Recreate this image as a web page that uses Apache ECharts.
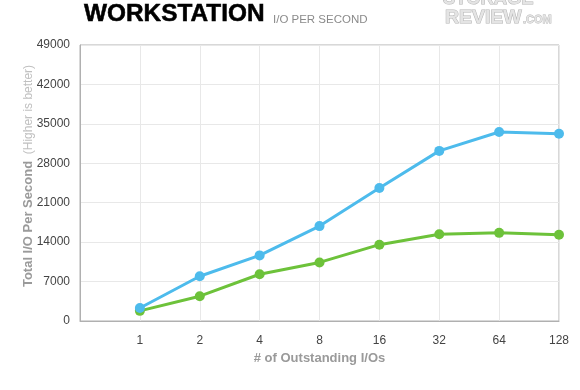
<!DOCTYPE html>
<html>
<head>
<meta charset="utf-8">
<script src="https://cdn.jsdelivr.net/npm/echarts@6/dist/echarts.min.js"></script>
<style>
html,body{margin:0;padding:0;background:#fff;}
#c{width:580px;height:390px;}
</style>
</head>
<body>
<div id="c"></div>
<script>
const categories = ['', '1', '2', '4', '8', '16', '32', '64', '128'];
const seriesBlue = [null, 2300, 7950, 11650, 16850, 23600, 30200, 33550, 33250];
const seriesGreen = [null, 1800, 4400, 8300, 10400, 13550, 15400, 15650, 15300];
const yTicks = { min: 0, max: 49000, interval: 7000 };

const chart = echarts.init(document.getElementById('c'));
const font = '"Liberation Sans", Arial, Helvetica, sans-serif';
chart.setOption({
  animation: false,
  textStyle: { fontFamily: font },
  grid: { left: 80, right: 21, top: 45, bottom: 69, show: true, borderColor: '#b0b0b0', borderWidth: 1, backgroundColor: 'transparent' },
  graphic: [
    { type: 'text', x: 84, y: 3, scaleX: 1.06, style: { text: 'WORKSTATION', font: 'bold 23px ' + font, fill: '#000', stroke: '#000', lineWidth: 0.5 } },
    { type: 'text', x: 273, y: 15, scaleX: 1.15, style: { text: 'I/O PER SECOND', font: '10px ' + font, fill: '#8a8a8a' } },
    { type: 'text', x: 443, y: -10, scaleX: 1.02, style: { text: 'STORAGE', font: 'bold 18px ' + font, fill: '#e4e4e4', stroke: '#b4b4b4', lineWidth: 1 } },
    { type: 'text', x: 445, y: 9, scaleX: 1.08, style: { text: 'REVIEW', font: 'bold 18px ' + font, fill: '#e4e4e4', stroke: '#b4b4b4', lineWidth: 1 } },
    { type: 'text', x: 523, y: 14, style: { text: '.COM', font: 'bold 11px ' + font, fill: '#e4e4e4', stroke: '#b4b4b4', lineWidth: 0.8 } }
  ],
  xAxis: {
    type: 'category',
    data: categories,
    boundaryGap: false,
    name: '# of Outstanding I/Os',
    nameLocation: 'middle',
    nameGap: 31,
    nameMoveOverlap: false,
    nameTextStyle: { color: '#9a9a9a', fontSize: 13, fontWeight: 'bold', fontFamily: font },
    axisLine: { show: true, lineStyle: { color: '#b0b0b0' } },
    axisTick: { show: false },
    axisLabel: { color: '#444', fontSize: 12, margin: 14, fontFamily: font, interval: 0 },
    splitLine: { show: true, lineStyle: { color: '#e8e8e8' } }
  },
  yAxis: {
    type: 'value',
    min: yTicks.min, max: yTicks.max, interval: yTicks.interval,
    name: '{p|}{a|Total I/O Per Second}  {b|(Higher is better)}',
    nameLocation: 'middle',
    nameGap: 45,
    nameMoveOverlap: false,
    nameTextStyle: {
      rich: {
        p: { width: 14 },
        a: { color: '#9a9a9a', fontSize: 13, fontWeight: 'bold', fontFamily: font },
        b: { color: '#c0c0c0', fontSize: 12, fontFamily: font }
      }
    },
    axisLine: { show: true, lineStyle: { color: '#b0b0b0' } },
    axisTick: { show: false },
    axisLabel: { color: '#444', fontSize: 12, margin: 10, fontFamily: font, formatter: v => String(v) },
    splitLine: { show: true, lineStyle: { color: '#e8e8e8' } }
  },
  series: [
    {
      type: 'line', data: seriesGreen, symbol: 'circle', symbolSize: 10,
      lineStyle: { color: '#6dc23a', width: 3 }, itemStyle: { color: '#6dc23a' }
    },
    {
      type: 'line', data: seriesBlue, symbol: 'circle', symbolSize: 10,
      lineStyle: { color: '#4dbbec', width: 3 }, itemStyle: { color: '#4dbbec' }
    }
  ]
});
</script>
</body>
</html>
